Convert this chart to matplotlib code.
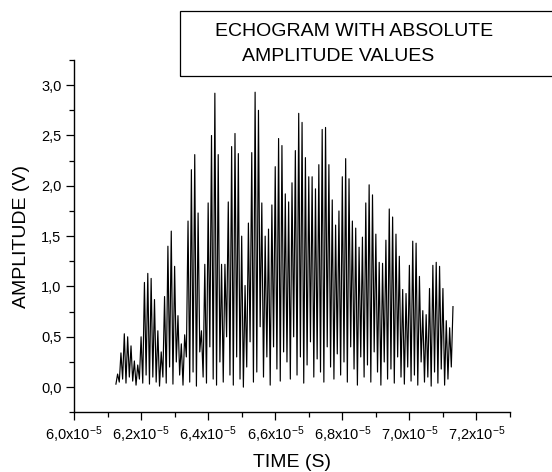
import matplotlib
matplotlib.use("Agg")
import matplotlib.pyplot as plt
import matplotlib.patches as patches
from matplotlib.ticker import MultipleLocator, FuncFormatter
import numpy as np

plt.rcParams['font.family'] = ['Liberation Sans', 'DejaVu Sans']
plt.rcParams['mathtext.default'] = 'regular'
plt.rcParams['axes.unicode_minus'] = False

# SIGNAL DATA
# -----------------------------------
t_start = 6.125e-5   # first sample (s)
t_step = 0.5e-7      # sample spacing (s)

# upper sample of each oscillation (V)
peaks = [0.13, 0.34, 0.53, 0.50, 0.41, 0.26, 0.22, 0.50, 1.04, 1.13,
         1.08, 0.87, 0.56, 0.35, 0.90, 1.40, 1.55, 1.20, 0.71, 0.43,
         0.52, 1.65, 2.16, 2.31, 1.73, 0.56, 1.22, 1.83, 2.50, 2.92,
         2.31, 1.22, 1.22, 1.84, 2.39, 2.52, 2.32, 1.50, 1.01, 1.63,
         2.33, 2.93, 2.75, 1.83, 1.50, 1.57, 1.81, 2.19, 2.47, 2.40,
         1.92, 1.84, 2.03, 2.35, 2.72, 2.63, 2.28, 2.09, 2.09, 1.97,
         2.21, 2.56, 2.58, 2.21, 1.86, 1.61, 1.75, 2.09, 2.27, 2.07,
         1.65, 1.58, 1.39, 1.49, 1.83, 2.01, 1.91, 1.52, 1.24, 1.23,
         1.46, 1.77, 1.69, 1.52, 1.30, 0.97, 0.93, 1.21, 1.45, 1.43,
         1.10, 0.76, 0.72, 0.98, 1.21, 1.24, 1.20, 0.98, 0.66, 0.59,
         0.80]

# lower sample before each peak (V)
lows = [0.03, 0.05, 0.08, 0.04, 0.10, 0.06, 0.02, 0.08, 0.04, 0.12,
        0.03, 0.10, 0.05, 0.01, 0.10, 0.04, 0.20, 0.03, 0.25, 0.12,
        0.02, 0.30, 0.05, 0.15, 0.01, 0.35, 0.10, 0.04, 0.40, 0.08,
        0.02, 0.25, 0.05, 0.50, 0.12, 0.02, 0.30, 0.08, 0.00, 0.20,
        0.45, 0.05, 0.15, 0.60, 0.10, 0.30, 0.02, 0.40, 0.18, 0.06,
        0.35, 0.25, 0.08, 0.50, 0.12, 0.30, 0.04, 0.22, 0.45, 0.10,
        0.28, 0.15, 0.05, 0.40, 0.20, 0.08, 0.33, 0.12, 0.25, 0.05,
        0.40, 0.18, 0.02, 0.30, 0.10, 0.22, 0.05, 0.35, 0.15, 0.02,
        0.25, 0.08, 0.18, 0.04, 0.30, 0.10, 0.03, 0.20, 0.06, 0.12,
        0.02, 0.25, 0.05, 0.10, 0.01, 0.15, 0.04, 0.18, 0.02, 0.08,
        0.20]

# interleave low / high samples
amplitude = np.ravel(np.column_stack([lows, peaks]))
time = t_start + t_step * np.arange(len(amplitude))

# FIGURE
# ------
fig = plt.figure(figsize=(5.52, 4.72), dpi=100)
ax = fig.add_axes([74 / 552, (472 - 412.3) / 472, 436 / 552, 352.3 / 472])

ax.plot(time, amplitude, color='black', lw=0.85)

ax.set_xlim(6.0e-5, 7.3e-5)
ax.set_ylim(-0.25, 3.25)

ax.xaxis.set_major_locator(MultipleLocator(0.2e-5))
ax.xaxis.set_minor_locator(MultipleLocator(0.1e-5))
ax.yaxis.set_major_locator(MultipleLocator(0.5))
ax.yaxis.set_minor_locator(MultipleLocator(0.25))


def fmt_x(v, pos):
    return ('%.1fx10$^{-5}$' % (v * 1e5)).replace('.', ',')


def fmt_y(v, pos):
    return ('%.1f' % v).replace('.', ',')


ax.xaxis.set_major_formatter(FuncFormatter(fmt_x))
ax.yaxis.set_major_formatter(FuncFormatter(fmt_y))

ax.spines['top'].set_visible(False)
ax.spines['right'].set_visible(False)
for s in ('left', 'bottom'):
    ax.spines[s].set_linewidth(1.0)
ax.tick_params(which='major', direction='out', length=5.5, width=0.9,
               labelsize=10.5, pad=3.5)
ax.tick_params(which='minor', direction='out', length=3.5, width=0.9)

ax.set_xlabel('TIME (S)', fontsize=14, labelpad=6)
ax.set_ylabel('AMPLITUDE (V)', fontsize=14, labelpad=8)

# title box
box = patches.Rectangle((180 / 552, 1 - 76 / 472), 1.0, 64.5 / 472,
                        transform=fig.transFigure, fill=False,
                        edgecolor='black', lw=0.9)
fig.patches.append(box)
fig.text(354 / 552, 1 - 32 / 472, 'ECHOGRAM WITH ABSOLUTE', fontsize=14,
         ha='center', va='center')
fig.text(338 / 552, 1 - 56.7 / 472, 'AMPLITUDE VALUES', fontsize=14,
         ha='center', va='center')

fig.savefig('out.png', dpi=100)
